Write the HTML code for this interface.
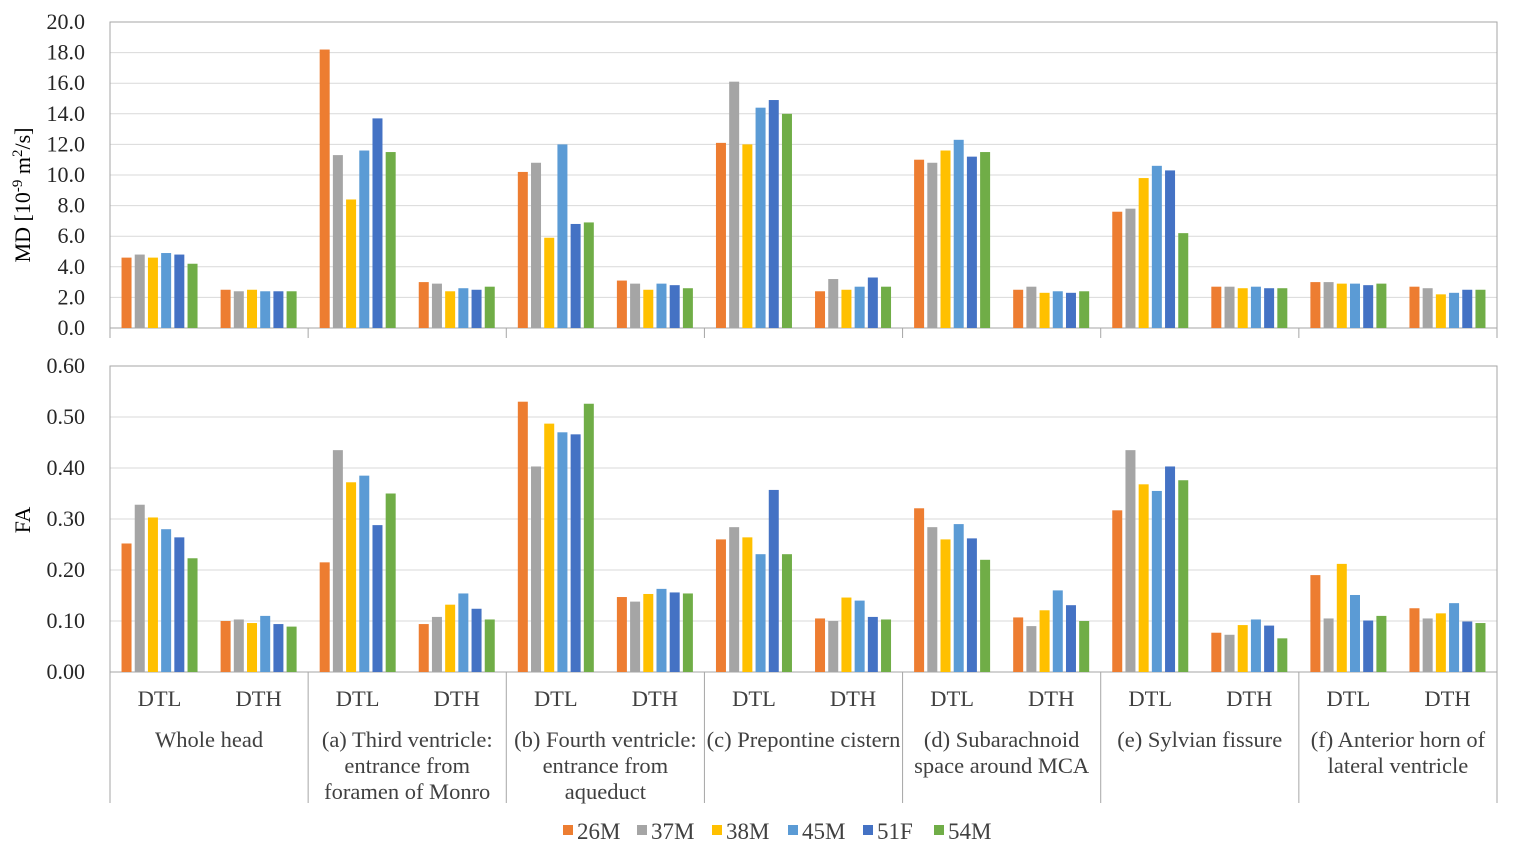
<!DOCTYPE html>
<html><head><meta charset="utf-8">
<style>
html,body{margin:0;padding:0;background:#fff;}
svg{display:block;font-family:"Liberation Serif",serif;}
</style></head>
<body>
<svg id="chart" width="1518" height="862" viewBox="0 0 1518 862" xmlns="http://www.w3.org/2000/svg">
<text transform="translate(30,195) rotate(-90)" text-anchor="middle" font-size="22">MD [10<tspan font-size="15" dy="-8">-9</tspan><tspan dy="8"> m</tspan><tspan font-size="15" dy="-8">2</tspan><tspan dy="8">/s]</tspan></text>
<text transform="translate(30,520) rotate(-90)" text-anchor="middle" font-size="22">FA</text>
</svg>
<script>
const series = ['26M','37M','38M','45M','51F','54M'];
const colors = ['#ED7D31','#A5A5A5','#FFC000','#5B9BD5','#4472C4','#70AD47'];
const groups = ['Whole head','(a) Third ventricle:|entrance from|foramen of Monro','(b) Fourth ventricle:|entrance from|aqueduct','(c) Prepontine cistern','(d) Subarachnoid|space around MCA','(e) Sylvian fissure','(f) Anterior horn of|lateral ventricle'];
const subCats = ['DTL','DTH'];
const mdTicks = ['0.0','2.0','4.0','6.0','8.0','10.0','12.0','14.0','16.0','18.0','20.0'];
const faTicks = ['0.00','0.10','0.20','0.30','0.40','0.50','0.60'];
const md26 = [4.6,2.5,18.2,3.0,10.2,3.1,12.1,2.4,11.0,2.5,7.6,2.7,3.0,2.7];
const md37 = [4.8,2.4,11.3,2.9,10.8,2.9,16.1,3.2,10.8,2.7,7.8,2.7,3.0,2.6];
const md38 = [4.6,2.5,8.4,2.4,5.9,2.5,12.0,2.5,11.6,2.3,9.8,2.6,2.9,2.2];
const md45 = [4.9,2.4,11.6,2.6,12.0,2.9,14.4,2.7,12.3,2.4,10.6,2.7,2.9,2.3];
const md51 = [4.8,2.4,13.7,2.5,6.8,2.8,14.9,3.3,11.2,2.3,10.3,2.6,2.8,2.5];
const md54 = [4.2,2.4,11.5,2.7,6.9,2.6,14.0,2.7,11.5,2.4,6.2,2.6,2.9,2.5];
const fa26 = [.252,.100,.215,.094,.530,.147,.260,.105,.321,.107,.317,.077,.190,.125];
const fa37 = [.328,.103,.435,.108,.403,.138,.284,.100,.284,.090,.435,.073,.105,.105];
const fa38 = [.303,.096,.372,.132,.487,.153,.264,.146,.260,.121,.368,.092,.212,.115];
const fa45 = [.280,.110,.385,.154,.470,.163,.231,.140,.290,.160,.355,.103,.151,.135];
const fa51 = [.264,.094,.288,.124,.466,.156,.357,.108,.262,.131,.403,.091,.101,.099];
const fa54 = [.223,.089,.350,.103,.526,.154,.231,.103,.220,.100,.376,.066,.110,.096];
const mdVals = [md26,md37,md38,md45,md51,md54];
const faVals = [fa26,fa37,fa38,fa45,fa51,fa54];

const svg = document.getElementById('chart');
const NS = 'http://www.w3.org/2000/svg';
function mk(tag, attrs, parent){const e=document.createElementNS(NS,tag);for(const k in attrs)e.setAttribute(k,attrs[k]);(parent||svg).appendChild(e);return e;}
const X0=110, X1=1497, nCat=14, catW=(X1-X0)/nCat;
const xCat = i => X0 + i*catW;
const barW = 10, barStep = 13.2;

function panel(name, top, bottom, maxV, ticks, vals){
  const y = v => bottom - (v/maxV)*(bottom-top);
  const g = mk('g',{});
  
  
  ticks.forEach(t=>{
    const yy=y(parseFloat(t));
    const l=mk('line',{x1:X0,x2:X1,y1:yy,y2:yy,stroke:'#d9d9d9','stroke-width':1},g);
    
    
    const tx=mk('text',{x:85,y:yy+7,'text-anchor':'end','font-size':22,fill:'#262626'},g);
    
    
    tx.textContent=t;
  });
  const fr=mk('rect',{x:X0,y:top,width:X1-X0,height:bottom-top,fill:'none',stroke:'#a6a6a6','stroke-width':1},g);
  
  
  for(let c=0;c<nCat;c++){
    for(let s=0;s<6;s++){
      const v=vals[s][c];
      const cx=xCat(c)+catW/2+(s-2.5)*barStep;
      const r=mk('rect',{x:cx-barW/2,y:y(v),width:barW,height:bottom-y(v),fill:colors[s]},g);
      
      
    }
  }
}
panel('md',22,328,20,mdTicks,mdVals);
panel('fa',366,672,0.6,faTicks,faVals);

for(let i=0;i<=7;i++){
  const x=X0+i*2*catW;
  const l=mk('line',{x1:x,x2:x,y1:328,y2:338,stroke:'#a6a6a6'});
  
  
  const l2=mk('line',{x1:x,x2:x,y1:672,y2:803,stroke:'#a6a6a6'});
  
  
}
for(let c=0;c<nCat;c++){
  const t=mk('text',{x:xCat(c)+catW/2,y:706,'text-anchor':'middle','font-size':22.5,fill:'#404040'});
  
  
  t.textContent=subCats[c%2];
}
groups.forEach((g,i)=>{
  const cx=X0+(i*2+1)*catW;
  g.split('|').forEach((line,j)=>{
    const t=mk('text',{x:cx,y:747+j*26,'text-anchor':'middle','font-size':22.5,fill:'#404040'});
    
    
    t.textContent=line;
  });
});
const lx=[563,637,712,788,863,934];
series.forEach((s,i)=>{
  const r=mk('rect',{x:lx[i],y:825,width:10,height:10,fill:colors[i]});
  
  
  const t=mk('text',{x:lx[i]+14,y:839,'font-size':23,fill:'#404040'});
  
  
  t.textContent=s;
});
</script>
</body></html>
